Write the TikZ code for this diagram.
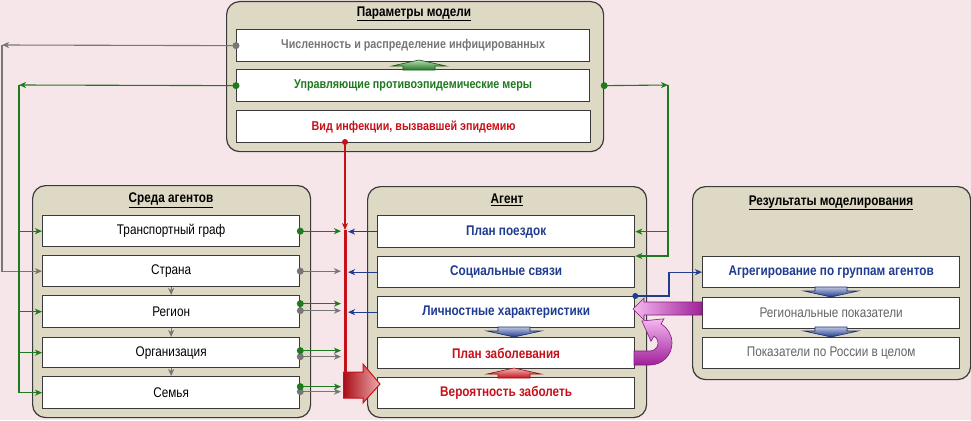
\documentclass[tikz,border=0pt]{standalone}
\usepackage{fontspec}
\setmainfont[FakeStretch=0.84]{Liberation Sans}
\usetikzlibrary{arrows.meta,calc}
\definecolor{bg}{HTML}{F7E6E9}
\definecolor{grpfill}{HTML}{DDD9C4}
\definecolor{edge}{HTML}{3A3A3A}
\definecolor{cgray}{HTML}{767676}
\definecolor{cgreen}{HTML}{1F7A1F}
\definecolor{cred}{HTML}{C8101A}
\definecolor{cblue}{HTML}{203C90}
\definecolor{cmag}{HTML}{A0209A}
\definecolor{cmaglight}{HTML}{F4B8F0}
\tikzset{
 grp/.style={draw=edge, fill=grpfill, rounded corners=13pt, line width=1.2pt, anchor=north west, inner sep=0pt},
 bx/.style={draw=edge, fill=white, line width=1.3pt, inner sep=0pt, anchor=north west, align=center},
 ttl/.style={font=\fontsize{14}{16}\selectfont\bfseries, inner sep=0pt},
 tipA/.style={-{Stealth[length=7pt,width=6pt,inset=2pt]}},
 conn/.style={line width=1.1pt, tipA},
 dotc/.style={circle, fill, inner sep=0pt, minimum size=7pt},
 ptxt/.style={font=\fontsize{12.8}{14}\selectfont\bfseries},
 etxt/.style={font=\fontsize{14}{16}\selectfont},
 atxt/.style={font=\fontsize{14}{16}\selectfont\bfseries},
 rtxt/.style={font=\fontsize{14}{16}\selectfont},
}
\newcommand{\flatarr}[4]{%
 \shade[draw=#4!75!black, top color=#4!30!white, bottom color=#4, line width=0.6pt, shift={(#1,#2)}, yscale=#3]
 (0,0) -- (-27,-6) -- (-16,-6) -- (-16,-10) -- (16,-10) -- (16,-6) -- (27,-6) -- cycle;}
\begin{document}
\begin{tikzpicture}[x=1pt,y=-1pt]
\useasboundingbox (0,0) rectangle (971,420);
\fill[bg] (0,0) rectangle (971,420);
% groups
\node[grp, minimum width=377pt, minimum height=150pt] (GP) at (226,1) {};
\node[grp, minimum width=278pt, minimum height=232pt] (GE) at (32,185) {};
\node[grp, minimum width=279pt, minimum height=231pt] (GA) at (367,186) {};
\node[grp, minimum width=278pt, minimum height=193pt] (GR) at (692,186) {};
\node[ttl] (TP) at (414,14) {\underline{Параметры модели}};
\node[ttl] (TE) at (171,200) {\underline{Среда агентов}};
\node[ttl] (TA) at (507,200) {\underline{Агент}};
\node[ttl] (TR) at (831,203) {\underline{Результаты моделирования}};
% parameter boxes
\node[bx, ptxt, text=cgray, minimum width=353pt, minimum height=32pt] (P1) at (236,29) {Численность и распределение инфицированных};
\node[bx, ptxt, text=cgreen, minimum width=353pt, minimum height=32pt] (P2) at (236,69) {Управляющие противоэпидемические меры};
\node[bx, ptxt, text=cred, minimum width=354pt, minimum height=32pt] (P3) at (236,110) {Вид инфекции, вызвавшей эпидемию};
% environment boxes
\node[bx, etxt, minimum width=257pt, minimum height=31pt] (E1) at (42,215) {Транспортный граф};
\node[bx, etxt, minimum width=257pt, minimum height=31pt] (E2) at (42,255) {Страна};
\node[bx, etxt, minimum width=257pt, minimum height=32pt] (E3) at (42,295) {Регион};
\node[bx, etxt, minimum width=257pt, minimum height=30pt] (E4) at (42,337) {Организация};
\node[bx, etxt, minimum width=257pt, minimum height=32pt] (E5) at (42,376) {Семья};
% agent boxes
\node[bx, atxt, text=cblue, minimum width=257pt, minimum height=32pt] (A1) at (377,215) {План поездок};
\node[bx, atxt, text=cblue, minimum width=257pt, minimum height=31pt] (A2) at (377,256) {Социальные связи};
\node[bx, atxt, text=cblue, minimum width=257pt, minimum height=31pt] (A3) at (377,296) {Личностные характеристики};
\node[bx, atxt, text=cred, minimum width=257pt, minimum height=31pt] (A4) at (377,337) {План заболевания};
\node[bx, atxt, text=cred, minimum width=257pt, minimum height=31pt] (A5) at (377,377) {Вероятность заболеть};
% result boxes
\node[bx, atxt, text=cblue, minimum width=257pt, minimum height=31pt] (R1) at (702,256) {Агрегирование по группам агентов};
\node[bx, rtxt, text=cgray!85!black, minimum width=257pt, minimum height=31pt] (R2) at (702,297) {Региональные показатели};
\node[bx, rtxt, text=cgray!85!black, minimum width=257pt, minimum height=31pt] (R3) at (702,337) {Показатели по России в целом};
% flat block arrows
\flatarr{419}{60}{-1}{cgreen}
\flatarr{514}{337}{1}{cblue}
\flatarr{514}{368}{-1}{cred}
\flatarr{831}{297}{1}{cblue}
\flatarr{831}{337}{1}{cblue}
% coordinates
\coordinate (g1) at (2,45);
\coordinate (gr1) at (19,85);
\coordinate (gs) at (GP.east |- P2.east);
\coordinate (gr2) at (668,85);
\coordinate (bl1) at (669,296);
\coordinate (rd0) at (345,142);
\coordinate (rd1) at (345,230);
\coordinate (rd2) at (345,385);
\coordinate (rlL) at (341,0);
\coordinate (rlR) at (348,0);
% gray from P1
\draw[cgray, conn] (P1.west) -- (g1);
\draw[cgray, conn] (g1) |- (E2.west);
\node[dotc, cgray] (d1) at (P1.west) {};
% green from P2 (left)
\draw[cgreen, conn] (P2.west) -- (gr1);
\draw[cgreen, conn] (gr1) |- (E1.west);
\draw[cgreen, conn] (gr1) |- (E3.west);
\draw[cgreen, conn] (gr1) |- (E4.west);
\draw[cgreen, conn] (gr1) |- (E5.west);
\node[dotc, cgreen] (d2) at (P2.west) {};
% green from P2 (right)
\draw[cgreen, conn] (gs) -- (gr2);
\draw[cgreen, conn] (gr2) |- (A1.east);
\draw[cgreen, conn] (gr2) |- (A2.north east);
\node[dotc, cgreen] (d3) at (gs) {};
% blue to results
\draw[cblue, conn] (A3.north east) -- (bl1) |- (R1.west);
\node[dotc, cblue, minimum size=6pt] (d4) at (A3.north east) {};
% red line
\draw[cred, conn] (rd0) -- (rd1);
\draw[cred, line width=3pt] (rd1) -- (rd2);
\node[dotc, cred, minimum size=6pt] (d5) at (rd0) {};
\shade[draw=cred, line width=1pt, left color=cred!85!black, right color=cred!35!white]
 (343.5,372) -- (363,372) -- (363,364) -- (380,384) -- (363,403) -- (363,398) -- (343.5,398) -- cycle;
% environment to red line
\draw[cgreen, conn] (E1.east) -- (E1.east -| rlL);
\node[dotc, cgreen] (e1d) at (E1.east) {};
\draw[cgray, conn] (E2.east) -- (E2.east -| rlL);
\node[dotc, cgray] (e2d) at (E2.east) {};
\draw[cgray, conn] ($(E3.east)+(0,-1)$) -- ($(E3.east -| rlL)+(0,-1)$);
\draw[cgreen, conn] ($(E3.east)+(0,-8)$) -- ($(E3.east -| rlL)+(0,-8)$);
\node[dotc, cgray] (e3g) at ($(E3.east)+(0,-1)$) {};
\node[dotc, cgreen] (e3d) at ($(E3.east)+(0,-8)$) {};
\draw[cgray, conn] ($(E4.east)+(0,4)$) -- ($(E4.east -| rlL)+(0,4)$);
\draw[cgreen, conn] ($(E4.east)+(0,-2)$) -- ($(E4.east -| rlL)+(0,-2)$);
\node[dotc, cgray] (e4g) at ($(E4.east)+(0,4)$) {};
\node[dotc, cgreen] (e4d) at ($(E4.east)+(0,-2)$) {};
\draw[cgray, conn] ($(E5.east)+(0,-1)$) -- ($(E5.east -| rlL)+(0,-1)$);
\draw[cgreen, conn] ($(E5.east)+(0,-6)$) -- ($(E5.east -| rlL)+(0,-6)$);
\node[dotc, cgray] (e5g) at ($(E5.east)+(0,-1)$) {};
\node[dotc, cgreen] (e5d) at ($(E5.east)+(0,-6)$) {};
% environment internal arrows
\draw[cgray, line width=1pt, tipA] (E2.south) -- (E3.north);
\draw[cgray, line width=1pt, tipA] (E3.south) -- (E4.north);
\draw[cgray, line width=1pt, tipA] (E4.south) -- (E5.north);
% agent to red line
\draw[cblue, conn] (A1.west) -- (A1.west -| rlR);
\draw[cblue, conn] (A2.west) -- (A2.west -| rlR);
\draw[cblue, conn] (A3.west) -- (A3.west -| rlR);
% magenta arrows
\shade[draw=cmag!80!black, line width=0.6pt, left color=cmaglight, right color=cmag]
 (702,302) -- (644,302) -- (644,298) -- (633,309) -- (644,320) -- (644,315) -- (702,315) -- cycle;
\shade[draw=cmag!80!black, line width=0.6pt, top color=cmaglight, bottom color=cmag]
 (634,365) -- (650,365) arc[start angle=90, end angle=-60, radius=22] -- (664,318.8) -- (641.9,321) -- (651,341.3) -- (654,336.1) arc[start angle=-60, end angle=90, radius=8] -- (634,351) -- cycle;
\end{tikzpicture}
\end{document}
